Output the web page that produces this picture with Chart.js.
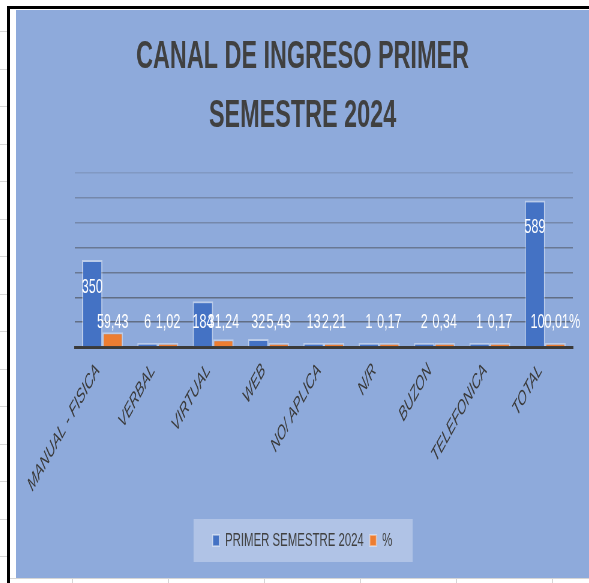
<!DOCTYPE html>
<html lang="es">

<head>
    <meta charset="utf-8" />
    <title>Canal de ingreso primer semestre 2024</title>
    <script src="https://cdn.jsdelivr.net/npm/chart.js"></script>
    <style>
        html, body { margin: 0; padding: 0; background: #fff; }
        body { width: 589px; height: 583px; position: relative; overflow: hidden; }
        /* restos de la cuadricula de la hoja de calculo */
        .filas { position: absolute; left: 0; top: 0; width: 7px; height: 583px;
            background-image: repeating-linear-gradient(to bottom, #fff 0, #fff 36.5px, #d6d6d6 36.5px, #d6d6d6 37.5px);
            background-position: 0 -5px; }
        .columnas { position: absolute; left: 10px; top: 578px; width: 579px; height: 5px;
            border-top: 1px solid #d6d6d6;
            background-image: repeating-linear-gradient(to right, #fff 0, #fff 95px, #d6d6d6 95px, #d6d6d6 96px);
            background-position: -33px 0; }
        .borde-izq { position: absolute; left: 7px; top: 6px; width: 3px; height: 577px; background: #000; }
        .borde-sup { position: absolute; left: 7px; top: 6px; width: 582px; height: 3px; background: #000; }
        #marco { position: absolute; left: 16px; top: 10px; width: 573px; height: 568px; background: #8eaadb; }
    </style>
</head>

<body>
    <div class="filas"></div>
    <div class="columnas"></div>
    <div class="borde-izq"></div>
    <div class="borde-sup"></div>
    <div id="marco">
        <!-- lienzo mas ancho que su caja: el grafico original sale comprimido en horizontal -->
        <canvas id="grafico" width="955" height="568" style="width:573px;height:568px"></canvas>
    </div>

    <script>
        const categorias = ['MANUAL - FISICA', 'VERBAL', 'VIRTUAL', 'WEB', 'NO/ APLICA', 'N/R', 'BUZON', 'TELEFONICA', 'TOTAL'];
        const primerSemestre = [350, 6, 184, 32, 13, 1, 2, 1, 589];
        // el total va como fraccion (1,0001 = 100,01%), por eso su barra casi no se ve
        const porcentaje = [59.43, 1.02, 31.24, 5.43, 2.21, 0.17, 0.34, 0.17, 1.0001];
        const ejeMax = 700;
        const ejePaso = 100;

        const fuente = '"Liberation Sans", Arial, sans-serif';
        const gris = '#404040';

        // etiquetas de datos: blancas, dentro del extremo de la barra o sobre la linea de 100
        const etiquetas = {
            id: 'etiquetas',
            afterDatasetsDraw(chart) {
                const { ctx, scales: { y } } = chart;
                const piso = y.getPixelForValue(ejePaso);
                ctx.save();
                ctx.font = '21px ' + fuente;
                ctx.fillStyle = '#fff';
                ctx.textAlign = 'center';
                ctx.textBaseline = 'middle';
                chart.data.datasets.forEach((ds, di) => {
                    chart.getDatasetMeta(di).data.forEach((bar, i) => {
                        const v = ds.data[i];
                        let txt, yy;
                        if (di === 0) {
                            txt = String(v);
                            yy = Math.min(bar.y + 27, piso);
                        } else {
                            const ultimo = i === ds.data.length - 1;
                            txt = ultimo ? (v * 100).toFixed(2).replace('.', ',') + '%' : v.toFixed(2).replace('.', ',');
                            yy = piso;
                        }
                        ctx.fillText(txt, bar.x, yy);
                    });
                });
                ctx.restore();
            }
        };

        // fondo claro detras de la leyenda
        const fondoLeyenda = {
            id: 'fondoLeyenda',
            beforeDraw(chart) {
                const cajas = chart.legend && chart.legend.legendHitBoxes;
                if (!cajas || !cajas.length) return;
                const izq = Math.min(...cajas.map(c => c.left)) - 32;
                const der = Math.max(...cajas.map(c => c.left + c.width)) + 34;
                const arriba = cajas[0].top - 12;
                const alto = cajas[0].height + 24;
                const { ctx } = chart;
                ctx.save();
                ctx.fillStyle = 'rgba(255,255,255,0.3)';
                ctx.fillRect(izq, arriba, der - izq, alto);
                ctx.restore();
            }
        };

        new Chart(document.getElementById('grafico'), {
            type: 'bar',
            data: {
                labels: categorias,
                datasets: [{
                    label: 'PRIMER SEMESTRE 2024',
                    data: primerSemestre,
                    backgroundColor: '#4472c4',
                    borderColor: 'rgba(255,255,255,0.4)',
                    borderWidth: 2,
                    minBarLength: 4
                }, {
                    label: '%',
                    data: porcentaje,
                    backgroundColor: '#ed7d31',
                    borderColor: 'rgba(255,255,255,0.4)',
                    borderWidth: 2,
                    minBarLength: 4
                }]
            },
            options: {
                responsive: false,
                devicePixelRatio: 1,
                animation: false,
                categoryPercentage: 0.74,
                barPercentage: 1,
                layout: { padding: { left: 27, right: 27, top: 0, bottom: 18 } },
                plugins: {
                    title: {
                        display: true,
                        text: ['CANAL DE INGRESO PRIMER', 'SEMESTRE 2024'],
                        color: gris,
                        font: { family: fuente, size: 39, weight: 'bold', lineHeight: 1.5 },
                        padding: { top: 18, bottom: 28 }
                    },
                    legend: {
                        position: 'bottom',
                        labels: {
                            color: gris,
                            font: { family: fuente, size: 19 },
                            boxWidth: 11,
                            boxHeight: 11,
                            padding: 10
                        }
                    },
                    tooltip: { enabled: false }
                },
                scales: {
                    x: {
                        grid: { display: false },
                        border: { display: true, color: '#3a3a3a', width: 3 },
                        ticks: {
                            color: '#3a3a3a',
                            font: { family: fuente, size: 20, style: 'italic' },
                            minRotation: 47,
                            maxRotation: 47,
                            autoSkip: false,
                            labelOffset: -8,
                            padding: 4
                        },
                        afterFit: s => { s.height = 174; }
                    },
                    y: {
                        min: 0,
                        max: ejeMax,
                        ticks: { display: false, stepSize: ejePaso },
                        border: { display: false },
                        grid: {
                            drawTicks: false,
                            lineWidth: 1.5,
                            color: c => {
                                const v = c.tick ? c.tick.value : 0;
                                if (v === 0) return 'rgba(0,0,0,0)';
                                if (v <= 200) return 'rgba(60,60,60,0.55)';
                                if (v <= 400) return 'rgba(60,60,60,0.45)';
                                if (v <= 600) return 'rgba(60,60,60,0.3)';
                                return 'rgba(60,60,60,0.15)';
                            }
                        },
                        afterFit: s => { s.width = 71; }
                    }
                }
            },
            plugins: [fondoLeyenda, etiquetas]
        });
    </script>
</body>

</html>
